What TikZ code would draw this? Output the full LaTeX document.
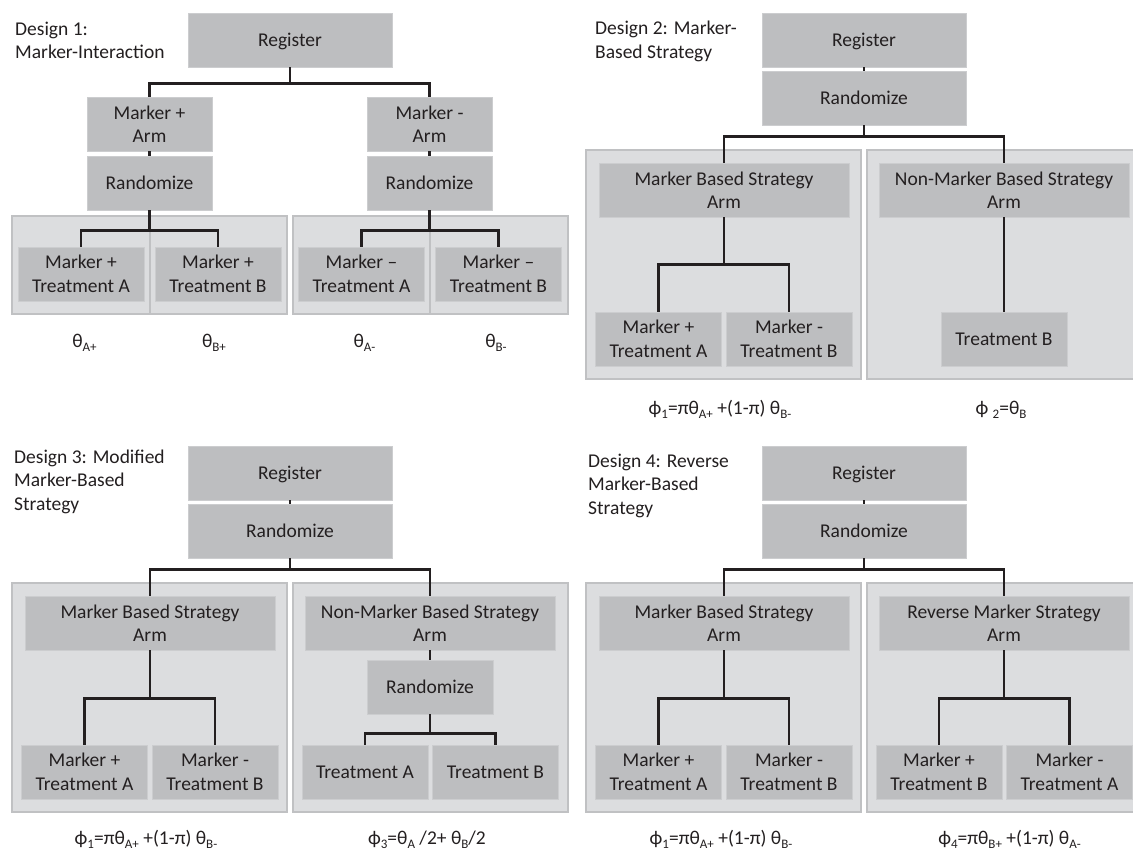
\documentclass[tikz,border=0pt]{standalone}
\usepackage{fontspec}
\setmainfont{Carlito}
\definecolor{boxgray}{RGB}{189,190,192}
\definecolor{boxedge}{RGB}{204,205,207}
\definecolor{panelgray}{RGB}{220,221,223}
\definecolor{paneledge}{RGB}{192,193,195}
\definecolor{ink}{RGB}{35,31,32}
\newcommand\lsub[1]{\raisebox{-4pt}{\fontsize{13}{13}\selectfont #1}}
\tikzset{
  box/.style={fill=boxgray, draw=boxedge, line width=0.8pt, inner sep=0pt, align=center,
    text=ink, font=\fontsize{19.5}{23.5}\selectfont},
  one/.style={text height=12.5pt, text depth=0pt},
  regbox/.style={box, minimum width=204pt, minimum height=54pt},
  armbox/.style={box, minimum width=250pt, minimum height=54pt},
  trtbox/.style={box, minimum width=126pt, minimum height=54pt},
  panel/.style={fill=panelgray, draw=paneledge, line width=1.5pt},
  conn/.style={draw=ink, line width=2.6pt},
  title/.style={anchor=north west, inner sep=0pt, align=left, text=ink,
    font=\fontsize{19.5}{23.5}\selectfont},
  lab/.style={inner sep=0pt, text=ink, font=\fontsize{19.5}{23}\selectfont,
    text height=12.5pt, text depth=0pt}
}
\begin{document}
\begin{tikzpicture}[x=1pt,y=-1pt]
\useasboundingbox (0,0) rectangle (1133,850);
\clip (0,0) rectangle (1133,850);
\fill[white] (0,0) rectangle (1133,850);

% ================= Design 1 =================
\node[title] (t1) at (15,20) {\rule{0pt}{15pt}Design 1:\\Marker-Interaction};
\draw[panel] (12,216) rectangle (150,314);
\draw[panel] (150,216) rectangle (287,314);
\draw[panel] (293,216) rectangle (430,314);
\draw[panel] (430,216) rectangle (568,314);

\node[regbox, one] (reg1) at (290,40) {Register};
\node[box, minimum width=125pt, minimum height=54pt] (arm1p) at (149.5,124) {Marker +\\Arm};
\node[box, one, minimum width=125pt, minimum height=54pt] (rnd1p) at (149.5,183) {Randomize};
\node[box, minimum width=125pt, minimum height=54pt] (arm1m) at (429.5,124) {Marker -\\Arm};
\node[box, one, minimum width=125pt, minimum height=54pt] (rnd1m) at (429.5,183) {Randomize};
\node[trtbox] (d1a) at (81,274) {Marker +\\Treatment A};
\node[trtbox] (d1b) at (218,274) {Marker +\\Treatment B};
\node[trtbox] (d1c) at (361.5,274) {Marker --\\Treatment A};
\node[trtbox] (d1d) at (498.5,274) {Marker --\\Treatment B};

\draw[conn] (reg1.south) -- ++(0,16) -| (arm1p.north);
\draw[conn] (reg1.south) -- ++(0,16) -| (arm1m.north);
\draw[conn] (arm1p.south) -- (rnd1p.north);
\draw[conn] (arm1m.south) -- (rnd1m.north);
\draw[conn] (rnd1p.south) -- ++(0,20) -| (d1a.north);
\draw[conn] (rnd1p.south) -- ++(0,20) -| (d1b.north);
\draw[conn] (rnd1m.south) -- ++(0,20) -| (d1c.north);
\draw[conn] (rnd1m.south) -- ++(0,20) -| (d1d.north);

\node[lab] (l1a) at (84.5,341.7) {θ\lsub{A+}};
\node[lab] (l1b) at (214,341.7) {θ\lsub{B+}};
\node[lab] (l1c) at (364.5,341.7) {θ\lsub{A-}};
\node[lab] (l1d) at (496,341.7) {θ\lsub{B-}};

% ================= Design 2 =================
\node[title] (t2) at (595,19.5) {\rule{0pt}{15pt}Design 2: Marker-\\Based Strategy};
\draw[panel] (586,150) rectangle (861,379);
\draw[panel] (867,150) rectangle (1142,379);
\node[regbox, one] (reg2) at (864,40) {Register};
\node[regbox, one] (rnd2) at (864,98) {Randomize};
\node[armbox] (arm2l) at (724,190) {Marker Based Strategy\\Arm};
\node[armbox] (arm2r) at (1004,190) {Non-Marker Based Strategy\\Arm};
\node[trtbox] (d2a) at (658.5,339) {Marker +\\Treatment A};
\node[trtbox] (d2b) at (789,339) {Marker -\\Treatment B};
\node[trtbox, one] (d2c) at (1004,339) {Treatment B};
\draw[conn] (reg2.south) -- (rnd2.north);
\draw[conn] (rnd2.south) -- ++(0,11) -| (arm2l.north);
\draw[conn] (rnd2.south) -- ++(0,11) -| (arm2r.north);
\draw[conn] (arm2l.south) -- ++(0,47) -| (d2a.north);
\draw[conn] (arm2l.south) -- ++(0,47) -| (d2b.north);
\draw[conn] (arm2r.south) -- (d2c.north);
\node[lab] (l2a) at (720,408) {ϕ\lsub{1}=πθ\lsub{A+} +(1-π) θ\lsub{B-}};
\node[lab] (l2b) at (1001,408) {ϕ \lsub{2}=θ\lsub{B}};

% ================= Design 3 =================
\node[title] (t3) at (14,448) {\rule{0pt}{15pt}Design 3: Modified\\Marker-Based\\Strategy};
\draw[panel] (12,583) rectangle (287,812);
\draw[panel] (293,583) rectangle (568,812);
\node[regbox, one] (reg3) at (290,473) {Register};
\node[regbox, one] (rnd3) at (290,531) {Randomize};
\node[armbox] (arm3l) at (150,623) {Marker Based Strategy\\Arm};
\node[armbox] (arm3r) at (430,623) {Non-Marker Based Strategy\\Arm};
\node[trtbox] (d3a) at (84.5,772) {Marker +\\Treatment A};
\node[trtbox] (d3b) at (215,772) {Marker -\\Treatment B};
\node[trtbox, one] (rnd3b) at (430,687) {Randomize};
\node[trtbox, one] (d3c) at (365,772) {Treatment A};
\node[trtbox, one] (d3d) at (495.5,772) {Treatment B};
\draw[conn] (reg3.south) -- (rnd3.north);
\draw[conn] (rnd3.south) -- ++(0,11) -| (arm3l.north);
\draw[conn] (rnd3.south) -- ++(0,11) -| (arm3r.north);
\draw[conn] (arm3l.south) -- ++(0,48) -| (d3a.north);
\draw[conn] (arm3l.south) -- ++(0,48) -| (d3b.north);
\draw[conn] (arm3r.south) -- (rnd3b.north);
\draw[conn] (rnd3b.south) -- ++(0,19) -| (d3c.north);
\draw[conn] (rnd3b.south) -- ++(0,19) -| (d3d.north);
\node[lab] (l3a) at (146,838) {ϕ\lsub{1}=πθ\lsub{A+} +(1-π) θ\lsub{B-}};
\node[lab] (l3b) at (427,838) {ϕ\lsub{3}=θ\lsub{A} /2+ θ\lsub{B}/2};

% ================= Design 4 =================
\node[title] (t4) at (588,452) {\rule{0pt}{15pt}Design 4: Reverse\\Marker-Based\\Strategy};
\draw[panel] (586,583) rectangle (861,812);
\draw[panel] (867,583) rectangle (1142,812);
\node[regbox, one] (reg4) at (864,473) {Register};
\node[regbox, one] (rnd4) at (864,531) {Randomize};
\node[armbox] (arm4l) at (724,623) {Marker Based Strategy\\Arm};
\node[armbox] (arm4r) at (1004,623) {Reverse Marker Strategy\\Arm};
\node[trtbox] (d4a) at (658.5,772) {Marker +\\Treatment A};
\node[trtbox] (d4b) at (789,772) {Marker -\\Treatment B};
\node[trtbox] (d4c) at (939,772) {Marker +\\Treatment B};
\node[trtbox] (d4d) at (1069.5,772) {Marker -\\Treatment A};
\draw[conn] (reg4.south) -- (rnd4.north);
\draw[conn] (rnd4.south) -- ++(0,11) -| (arm4l.north);
\draw[conn] (rnd4.south) -- ++(0,11) -| (arm4r.north);
\draw[conn] (arm4l.south) -- ++(0,48) -| (d4a.north);
\draw[conn] (arm4l.south) -- ++(0,48) -| (d4b.north);
\draw[conn] (arm4r.south) -- ++(0,48) -| (d4c.north);
\draw[conn] (arm4r.south) -- ++(0,48) -| (d4d.north);
\node[lab] (l4a) at (721,838) {ϕ\lsub{1}=πθ\lsub{A+} +(1-π) θ\lsub{B-}};
\node[lab] (l4b) at (1009.5,838) {ϕ\lsub{4}=πθ\lsub{B+} +(1-π) θ\lsub{A-}};
\end{tikzpicture}
\end{document}
